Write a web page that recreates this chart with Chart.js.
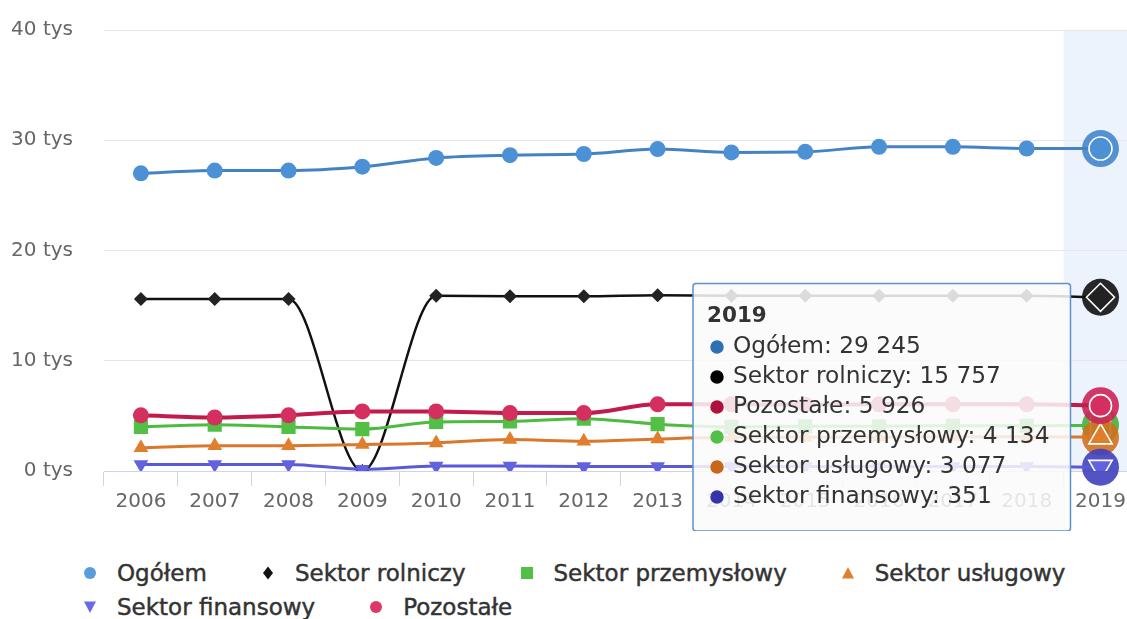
<!DOCTYPE html>
<html>
<head>
<meta charset="utf-8">
<script src="https://cdn.jsdelivr.net/npm/chart.js@4.4.1/dist/chart.umd.min.js"></script>
<style>
html,body{margin:0;padding:0;background:#fff;overflow:hidden;width:1127px;height:619px;}
#wrap{position:absolute;left:0;top:0;width:1153px;height:531px;}
#legend{position:absolute;left:84px;top:556px;width:1050px;display:flex;flex-wrap:wrap;column-gap:55px;
  font-family:"DejaVu Sans";font-size:23px;color:#333;-webkit-text-stroke:0.45px #333;}
.item{display:flex;align-items:center;height:34px;white-space:nowrap;}
.item svg{margin-right:21px;flex:none;}
</style>
</head>
<body>
<div id="wrap"><canvas id="c" width="1153" height="531"></canvas></div>
<div id="legend"></div>
<script>
// ---- data ----
const categories = ['2006','2007','2008','2009','2010','2011','2012','2013','2014','2015','2016','2017','2018','2019'];
const seriesNames = ['Ogółem','Sektor rolniczy','Sektor przemysłowy','Sektor usługowy','Sektor finansowy','Pozostałe'];
const ogolem      = [27000, 27250, 27250, 27600, 28400, 28650, 28750, 29200, 28900, 28950, 29400, 29400, 29250, 29245];
const rolniczy    = [15600, 15600, 15600, 0, 15900, 15850, 15850, 15950, 15900, 15900, 15900, 15900, 15900, 15757];
const przemyslowy = [4000, 4200, 4000, 3800, 4450, 4500, 4750, 4250, 4000, 4050, 4050, 4100, 4100, 4134];
const uslugowy    = [2100, 2300, 2300, 2400, 2550, 2850, 2700, 2900, 3050, 3050, 3050, 3100, 3100, 3077];
const finansowy   = [600, 600, 600, 150, 450, 450, 400, 400, 400, 400, 400, 400, 400, 351];
const pozostale   = [5050, 4850, 5050, 5400, 5400, 5250, 5250, 6050, 6050, 6000, 6050, 6050, 6050, 5926];
const yTicks = [0, 10000, 20000, 30000, 40000];

// ---- styles ----
const lineColors  = ['#4482c4', '#111111', '#4cbb3e', '#d9782c', '#5a5ad8', '#c21a4b'];
const pointColors = ['#4c91d6', '#222222', '#52c044', '#df7f2e', '#6262de', '#d42f5e'];
const haloColors  = ['#4486cc', '#111111', '#45b239', '#d0701e', '#4040bc', '#cc2454'];
const legendColors = ['#5a9be0', '#111111', '#52c044', '#df7f2e', '#6a6ae8', '#dc3a66'];
const tipColors   = ['#2f6fb3', '#000000', '#52c044', '#c8661a', '#3434a6', '#b0103e'];
const lineWidths  = [3, 2.5, 3, 3, 3, 4];
const styles      = ['circle', 'rectRot', 'rect', 'triangle', 'triangle', 'circle'];
const rotations   = [0, 0, 0, 0, 180, 0];
const radii       = [8, 7, 10, 8.5, 8.5, 8];
const hoverRadii  = [11.5, 14, 14, 13.5, 13.5, 11];
const values = [ogolem, rolniczy, przemyslowy, uslugowy, finansowy, pozostale];
const last = categories.length - 1;

const fmt = n => String(n).replace(/\B(?=(\d{3})+(?!\d))/g, ' ');

const datasets = values.map((v, i) => ({
  label: seriesNames[i],
  data: v,
  borderColor: lineColors[i],
  borderWidth: lineWidths[i],
  backgroundColor: pointColors[i],
  pointBackgroundColor: pointColors[i],
  pointBorderColor: c => c.dataIndex === last ? '#ffffff' : pointColors[i],
  pointBorderWidth: c => c.dataIndex === last ? 1.6 : 0,
  pointRadius: c => c.dataIndex === last ? hoverRadii[i] : radii[i],
  pointStyle: styles[i],
  pointRotation: rotations[i],
  cubicInterpolationMode: 'monotone',
  tension: 0.4,
  fill: false,
  order: values.length - 1 - i
}));

const bandPlugin = {
  id: 'band',
  beforeDraw(chart) {
    const {ctx, chartArea: a, scales: {x}} = chart;
    const half = (x.getPixelForValue(1) - x.getPixelForValue(0)) / 2;
    const left = x.getPixelForValue(last) - half;
    ctx.save();
    ctx.fillStyle = '#edf3fc';
    ctx.fillRect(left, a.top, a.right - left + 4, a.bottom - a.top);
    ctx.restore();
  }
};

const haloPlugin = {
  id: 'halo',
  beforeDatasetDraw(chart, args) {
    const el = args.meta.data[last];
    if (!el) return;
    const ctx = chart.ctx;
    ctx.save();
    ctx.globalAlpha = 0.9;
    ctx.fillStyle = haloColors[args.index];
    ctx.beginPath();
    ctx.arc(el.x, el.y, 18.5, 0, Math.PI * 2);
    ctx.fill();
    ctx.restore();
  }
};

Chart.Tooltip.positioners.fixedRight = function (items) {
  if (!items.length) return false;
  const el = items[0].element;
  const a = this.chart.chartArea;
  return {x: el.x - 30, y: a.bottom - 63.6, xAlign: 'right', yAlign: 'center'};
};

const axisFont = {family: 'DejaVu Sans', size: 20};

const chart = new Chart(document.getElementById('c'), {
  type: 'line',
  data: {labels: categories, datasets},
  plugins: [bandPlugin, haloPlugin],
  options: {
    responsive: false,
    animation: false,
    events: [],
    layout: {padding: {top: 30, right: 2, left: 0, bottom: 0}},
    scales: {
      x: {
        type: 'category',
        offset: true,
        afterFit: s => { s.height = 60; s.paddingLeft = 0; s.paddingRight = 0; },
        grid: {display: true, drawOnChartArea: false, drawTicks: true, tickLength: 15, color: '#ccd6eb', offset: true},
        border: {display: true, color: '#ccd6eb', width: 1},
        ticks: {color: '#666', font: axisFont, padding: 4, maxRotation: 0, autoSkip: false}
      },
      y: {
        min: yTicks[0],
        max: yTicks[yTicks.length - 1],
        afterFit: s => { s.width = 104; s.paddingTop = 0; s.paddingBottom = 0; },
        afterBuildTicks: s => { s.ticks = yTicks.map(v => ({value: v})); },
        grid: {color: '#e6e6e6', drawTicks: false},
        border: {display: false},
        ticks: {color: '#666', font: axisFont, padding: 31, callback: v => (v / 1000) + ' tys'}
      }
    },
    plugins: {
      legend: {display: false},
      tooltip: {
        enabled: true,
        mode: 'index',
        intersect: false,
        position: 'fixedRight',
        animation: false,
        backgroundColor: 'rgba(250,250,250,0.86)',
        borderColor: '#5b92cc',
        borderWidth: 1.5,
        cornerRadius: 3,
        titleColor: '#333',
        bodyColor: '#333',
        titleFont: {family: 'DejaVu Sans', size: 21.5, weight: 'bold', lineHeight: 1},
        bodyFont: {family: 'DejaVu Sans', size: 23.3, lineHeight: 1},
        titleMarginBottom: 8,
        bodySpacing: 6.7,
        padding: {top: 22.5, bottom: 22.3, left: 14, right: 21},
        caretSize: 0,
        caretPadding: 0,
        displayColors: true,
        usePointStyle: true,
        boxWidth: 20,
        boxHeight: 12,
        boxPadding: 4,
        itemSort: (a, b) => b.raw - a.raw,
        callbacks: {
          label: c => c.dataset.label + ': ' + fmt(c.raw),
          labelColor: c => ({backgroundColor: tipColors[c.datasetIndex], borderColor: tipColors[c.datasetIndex]}),
          labelPointStyle: () => ({pointStyle: 'circle', rotation: 0})
        }
      }
    }
  }
});

chart.tooltip.setActiveElements(datasets.map((d, i) => ({datasetIndex: i, index: last})), {x: 0, y: 0});
chart.update();

// ---- HTML legend ----
const shapes = {
  circle: c => `<svg width="12" height="12"><circle cx="6" cy="6" r="6" fill="${c}"/></svg>`,
  rectRot: c => `<svg width="12" height="14"><polygon points="6,0.5 11,7 6,13.5 1,7" fill="${c}"/></svg>`,
  rect: c => `<svg width="12" height="12"><rect x="0" y="0" width="12" height="12" fill="${c}"/></svg>`,
  up: c => `<svg width="12" height="12"><polygon points="6,0 12,11.5 0,11.5" fill="${c}"/></svg>`,
  down: c => `<svg width="12" height="12"><polygon points="0,0.5 12,0.5 6,12" fill="${c}"/></svg>`
};
const legendShape = ['circle', 'rectRot', 'rect', 'up', 'down', 'circle'];
const lg = document.getElementById('legend');
seriesNames.forEach((name, i) => {
  const d = document.createElement('div');
  d.className = 'item';
  d.innerHTML = shapes[legendShape[i]](legendColors[i]) + '<span></span>';
  d.querySelector('span').textContent = name;
  lg.appendChild(d);
});
</script>
</body>
</html>
